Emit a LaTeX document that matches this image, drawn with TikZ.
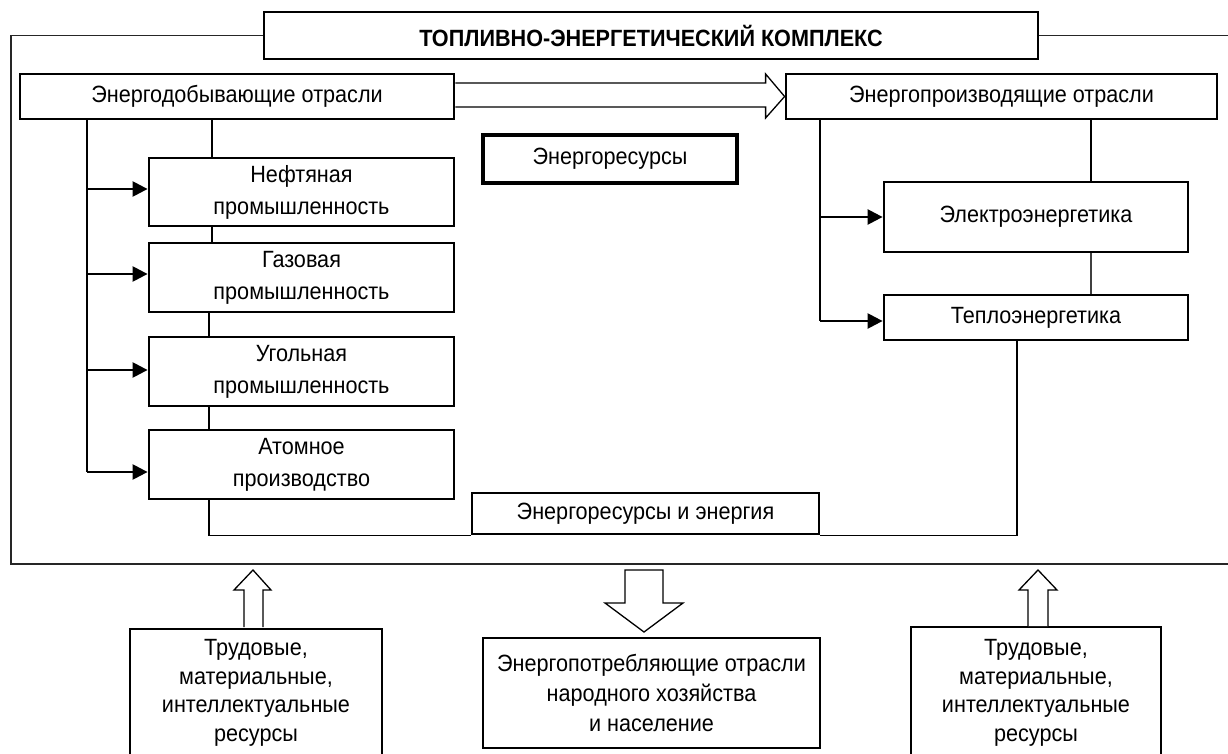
\documentclass[tikz,border=0pt]{standalone}
\usepackage{fontspec}
\setmainfont[FakeStretch=0.92]{Liberation Sans}
\usetikzlibrary{arrows.meta,calc}
\begin{document}
\begin{tikzpicture}[x=1pt,y=-1pt,
  every node/.style={font=\fontsize{23.5}{32}\selectfont},
  box/.style={draw, line width=2.8pt, inner sep=0pt, align=center, fill=white},
  conn/.style={line width=1.3pt},
  vline/.style={line width=2pt},
  arr/.style={line width=2.4pt, -{Triangle[length=15pt,width=15pt]}},
  hollow/.style={line width=1.3pt, fill=white, line join=miter}]
\useasboundingbox (0,0) rectangle (1228,754);

% title and outer frame
\node[box, minimum width=774, minimum height=47, font=\fontsize{23.5}{32}\selectfont\bfseries] (title) at (651,35.5) {ТОПЛИВНО-ЭНЕРГЕТИЧЕСКИЙ КОМПЛЕКС};
\draw[line width=1.5pt, black!85] (title.west) -- (11,35.5) -- (11,564) -- (1240,564);
\draw[line width=1.5pt, black!85] (title.east) -- (1240,35.5);

% main boxes
\node[box, minimum width=434, minimum height=45] (dob) at (237,96.5) {Энергодобывающие отрасли};
\node[box, minimum width=431, minimum height=45] (prod) at (1001.5,96.5) {Энергопроизводящие отрасли};
\node[box, line width=4pt, minimum width=254, minimum height=48] (res) at (610,159) {Энергоресурсы};
\node[box, minimum width=305, minimum height=68] (neft) at (301.5,192) {Нефтяная\\промышленность};
\node[box, minimum width=305, minimum height=69] (gaz) at (301.5,277.5) {Газовая\\промышленность};
\node[box, minimum width=305, minimum height=69] (ugol) at (301.5,371.5) {Угольная\\промышленность};
\node[box, minimum width=305, minimum height=69] (atom) at (301.5,464.5) {Атомное\\производство};
\node[box, minimum width=347, minimum height=41] (resen) at (645.5,513.5) {Энергоресурсы и энергия};
\node[box, minimum width=304, minimum height=70] (el) at (1036,217) {Электроэнергетика};
\node[box, minimum width=304, minimum height=45] (tep) at (1036,317.5) {Теплоэнергетика};

% bottom boxes
\node[box, minimum width=252, minimum height=128, font=\fontsize{23.5}{28.5}\selectfont] (lb) at (256,693) {Трудовые,\\материальные,\\интеллектуальные\\ресурсы};
\node[box, minimum width=337, minimum height=110, font=\fontsize{23.5}{30}\selectfont] (cb) at (651.5,693) {Энергопотребляющие отрасли\\народного хозяйства\\и население};
\node[box, minimum width=250, minimum height=132, font=\fontsize{23.5}{28.5}\selectfont] (rb) at (1036,693) {Трудовые,\\материальные,\\интеллектуальные\\ресурсы};

% double (hollow) arrow between top boxes
\draw[hollow] ($(dob.east)+(0,-13.5)$) -- ($(prod.west)+(-19,-13.5)$) -- ($(prod.west)+(-19,-22.5)$) -- (prod.west) -- ($(prod.west)+(-19,21.5)$) -- ($(prod.west)+(-19,10.5)$) -- ($(dob.east)+(0,10.5)$);

% left branch
\coordinate (lx) at ($(dob.south west)+(68,0)$);
\coordinate (a1) at ($(neft.west)+(0,-3)$);
\coordinate (a2) at ($(gaz.west)+(0,-3.5)$);
\coordinate (a3) at ($(ugol.west)+(0,-1.5)$);
\coordinate (a4) at ($(atom.west)+(0,7.5)$);
\draw[vline] (lx) -- (lx |- a4);
\draw[arr] (lx |- a1) -- (a1);
\draw[arr] (lx |- a2) -- (a2);
\draw[arr] (lx |- a3) -- (a3);
\draw[arr] (lx |- a4) -- (a4);

% left chain
\coordinate (cx1) at (212,0);
\coordinate (cx2) at (209,0);
\draw[conn] (cx1 |- dob.south) -- (cx1 |- neft.north);
\draw[conn] (cx1 |- neft.south) -- (cx1 |- gaz.north);
\draw[conn] (cx2 |- gaz.south) -- (cx2 |- ugol.north);
\draw[conn] (cx2 |- ugol.south) -- (cx2 |- atom.north);
\draw[conn] (cx2 |- atom.south) |- (resen.south west);

% right branch
\coordinate (rx) at (820,0);
\coordinate (b1) at (el.west);
\coordinate (b2) at ($(tep.west)+(0,3.5)$);
\draw[vline] (rx |- prod.south) -- (rx |- b2);
\draw[arr] (rx |- b1) -- (b1);
\draw[arr] (rx |- b2) -- (b2);
\coordinate (cx3) at (1091,0);
\draw[conn] (cx3 |- prod.south) -- (cx3 |- el.north);
\draw[conn, black!75] (cx3 |- el.south) -- (cx3 |- tep.north);
\coordinate (cx4) at (1017,0);
\draw[conn] (cx4 |- tep.south) |- (resen.south east);

% bottom hollow arrows
\draw[hollow] (244,627) -- (244,590) -- (234,590) -- (253,570) -- (271,590) -- (263,590) -- (263,627);
\draw[hollow] (625,570) -- (625,603) -- (605,603) -- (644,632) -- (683,603) -- (663,603) -- (663,570) -- cycle;
\draw[hollow] (1028,626) -- (1028,590) -- (1019,590) -- (1038,570) -- (1057,590) -- (1048,590) -- (1048,626);
\end{tikzpicture}
\end{document}
